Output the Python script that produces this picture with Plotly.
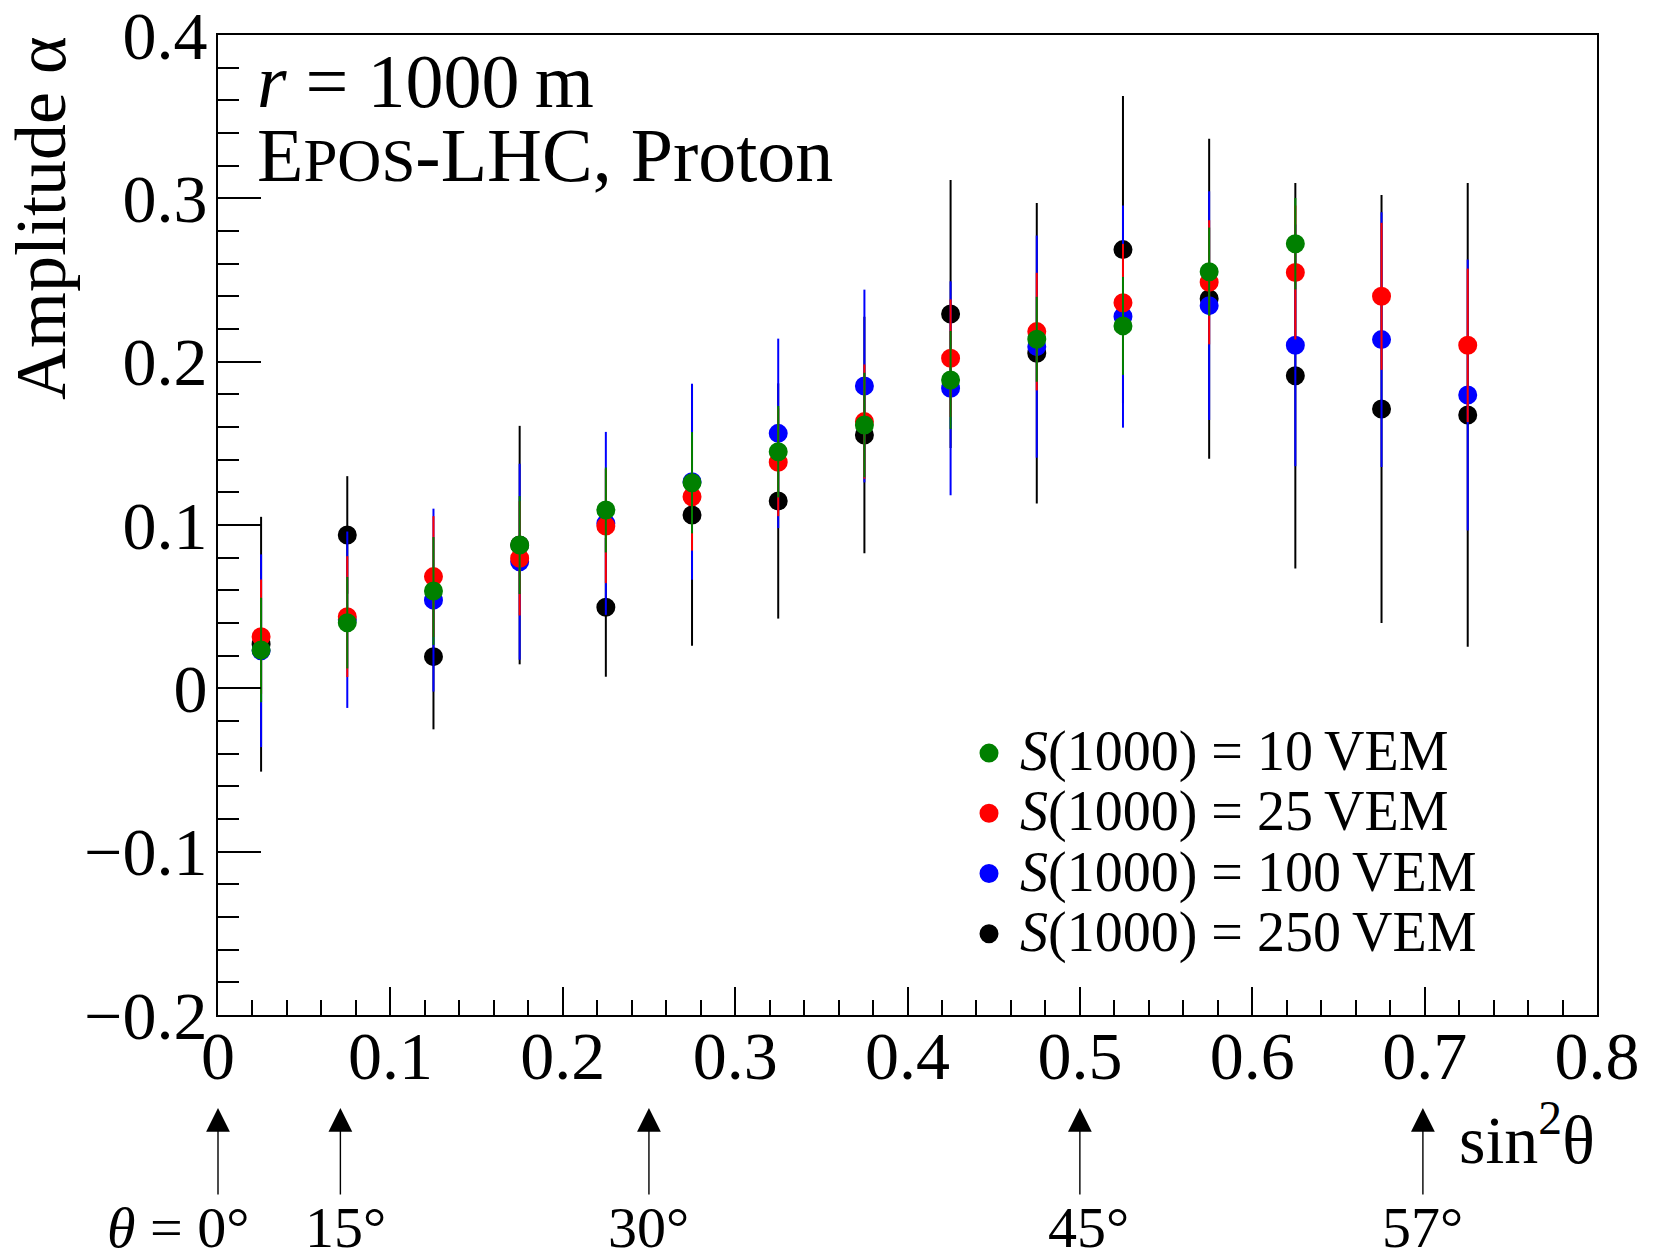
import plotly.graph_objects as go

# sin^2(theta) bin centres
x_all = [0.025, 0.075, 0.125, 0.175, 0.225, 0.275, 0.325, 0.375,
         0.425, 0.475, 0.525, 0.575, 0.625, 0.675, 0.725]

# S(1000) = 10 VEM (green)
x_10 = x_all[:13]
a_10 = [0.0235, 0.0402, 0.0596, 0.0877, 0.1092, 0.1259, 0.1449, 0.1612,
        0.1888, 0.2137, 0.2219, 0.2551, 0.2722]
e_10 = [0.032, 0.028, 0.033, 0.030, 0.026, 0.031, 0.028, 0.032,
        0.030, 0.026, 0.030, 0.027, 0.028]

# S(1000) = 25 VEM (red)
a_25 = [0.0316, 0.0439, 0.0684, 0.0796, 0.0994, 0.1173, 0.1384, 0.1633,
        0.2021, 0.2184, 0.2361, 0.2486, 0.2546, 0.2400, 0.2100]
e_25 = [0.035, 0.037, 0.037, 0.035, 0.035, 0.033, 0.033, 0.035,
        0.036, 0.036, 0.036, 0.038, 0.041, 0.045, 0.047]

# S(1000) = 100 VEM (blue)
a_100 = [0.0230, 0.0420, 0.0540, 0.0775, 0.1010, 0.1265, 0.1561, 0.1851,
         0.1837, 0.2092, 0.2276, 0.2343, 0.2100, 0.2135, 0.1796]
e_100 = [0.059, 0.054, 0.056, 0.060, 0.056, 0.060, 0.058, 0.059,
         0.0655, 0.068, 0.068, 0.070, 0.074, 0.078, 0.083]

# S(1000) = 250 VEM (black)
a_250 = [0.0270, 0.0939, 0.0194, 0.0877, 0.0496, 0.1061, 0.1147, 0.1551,
         0.2292, 0.2051, 0.2686, 0.2385, 0.1914, 0.1710, 0.1674]
e_250 = [0.078, 0.036, 0.0445, 0.073, 0.0425, 0.080, 0.072, 0.0724,
         0.082, 0.092, 0.094, 0.098, 0.118, 0.131, 0.142]

# axis ticks
y_ticks = [-0.2, -0.1, 0.0, 0.1, 0.2, 0.3, 0.4]
x_ticks = [0.0, 0.1, 0.2, 0.3, 0.4, 0.5, 0.6, 0.7, 0.8]

# zenith-angle markers below the axis (in sin^2 theta units)
angle_pos = [0.0, 0.071, 0.25, 0.5, 0.699]
angle_labels = ["<i>θ</i> = 0°", "15°", "30°", "45°", "57°"]
angle_label_x = [-0.023, 0.074, 0.25, 0.505, 0.699]

FONT = "Liberation Serif"
W, H = 1653, 1256
L, R, T, B = 218, 56, 35, 241
X_RANGE = [0.0, 0.8]
Y_RANGE = [-0.2, 0.4]

series = [
    ("250", x_all, a_250, e_250, "#000000"),
    ("100", x_all, a_100, e_100, "#0000ff"),
    ("25", x_all, a_25, e_25, "#ff0000"),
    ("10", x_10, a_10, e_10, "#008000"),
]

fig = go.Figure()
for lab, xs, ys, es, col in series:
    fig.add_trace(go.Scatter(
        x=xs, y=ys, mode="markers",
        name=f"<span style='font-size:56px'><i>S</i>(1000) = {lab}\u2009VEM</span>",
        marker=dict(color=col, size=15, symbol="circle", line=dict(width=4, color=col)),
        error_y=dict(type="data", array=es, visible=True, color=col,
                     thickness=2, width=0),
        cliponaxis=False,
    ))

pw = W - L - R
ph = H - T - B


def px(xp):
    return (xp - L) / pw


def py(yp):
    return (H - B - yp) / ph


def xd2paper(v):
    return (v - X_RANGE[0]) / (X_RANGE[1] - X_RANGE[0])


info_text = ("<span style='font-size:76px'><i>r</i> = 1000\u2009m</span><br>"
             "<span style='font-size:76px'>E</span>"
             "<span style='font-size:61px'>POS</span>"
             "<span style='font-size:76px'>-LHC, Proton</span>")

annotations = [
    dict(text=info_text, x=px(255), y=py(118), xref="paper", yref="paper",
         xanchor="left", yanchor="middle", align="left", showarrow=False,
         font=dict(family=FONT, size=57, color="black")),
    dict(text="Amplitude α", x=px(41), y=py(218), xref="paper", yref="paper",
         xanchor="center", yanchor="middle", textangle=-90, showarrow=False,
         font=dict(family=FONT, size=72, color="black")),
    dict(text="sin<sup>2</sup>θ", x=1.0, y=py(1135), xref="paper", yref="paper",
         xanchor="right", yanchor="middle", showarrow=False,
         font=dict(family=FONT, size=68, color="black")),
]

for xa in angle_pos:
    annotations.append(dict(
        text="", x=xd2paper(xa), y=py(1108), xref="paper", yref="paper",
        showarrow=True, ax=0, ay=88, axref="pixel", ayref="pixel",
        arrowhead=2, arrowsize=3.4, arrowwidth=1.4, arrowcolor="black", standoff=0,
    ))
for xl, tl in zip(angle_label_x, angle_labels):
    annotations.append(dict(
        text=tl, x=xd2paper(xl), y=py(1227), xref="paper", yref="paper",
        xanchor="center", yanchor="middle", showarrow=False,
        font=dict(family=FONT, size=58, color="black"),
    ))

fig.update_layout(
    width=W, height=H,
    margin=dict(l=L, r=R, t=T, b=B, autoexpand=False),
    paper_bgcolor="white", plot_bgcolor="white",
    font=dict(family=FONT, color="black"),
    showlegend=True,
    legend=dict(
        x=px(958), y=py(718), xanchor="left", yanchor="top",
        xref="paper", yref="paper",
        traceorder="reversed", bgcolor="rgba(0,0,0,0)",
        font=dict(family=FONT, size=44, color="black"),
        itemsizing="trace", itemwidth=52,
    ),
    annotations=annotations,
)

fig.update_xaxes(
    range=X_RANGE, tickmode="array", tickvals=x_ticks, automargin=False,
    showgrid=False, zeroline=False,
    showline=True, linecolor="black", linewidth=2, mirror=True,
    ticks="inside", ticklen=28, tickwidth=1.5, tickcolor="black",
    minor=dict(dtick=0.02, tick0=0, ticks="inside", ticklen=15, tickwidth=1.5, tickcolor="black"),
    tickfont=dict(family=FONT, size=68, color="black"),
    ticklabelstandoff=-20, ticklabeloverflow="allow",
)
fig.update_yaxes(
    range=Y_RANGE, tickmode="array", tickvals=y_ticks, automargin=False,
    showgrid=False, zeroline=False,
    showline=True, linecolor="black", linewidth=2, mirror=True,
    ticks="inside", ticklen=43, tickwidth=1.5, tickcolor="black",
    minor=dict(dtick=0.02, tick0=0, ticks="inside", ticklen=21, tickwidth=1.5, tickcolor="black"),
    tickfont=dict(family=FONT, size=68, color="black"),
    ticklabelstandoff=-5, ticklabeloverflow="allow",
)

fig.write_html("out.html")
